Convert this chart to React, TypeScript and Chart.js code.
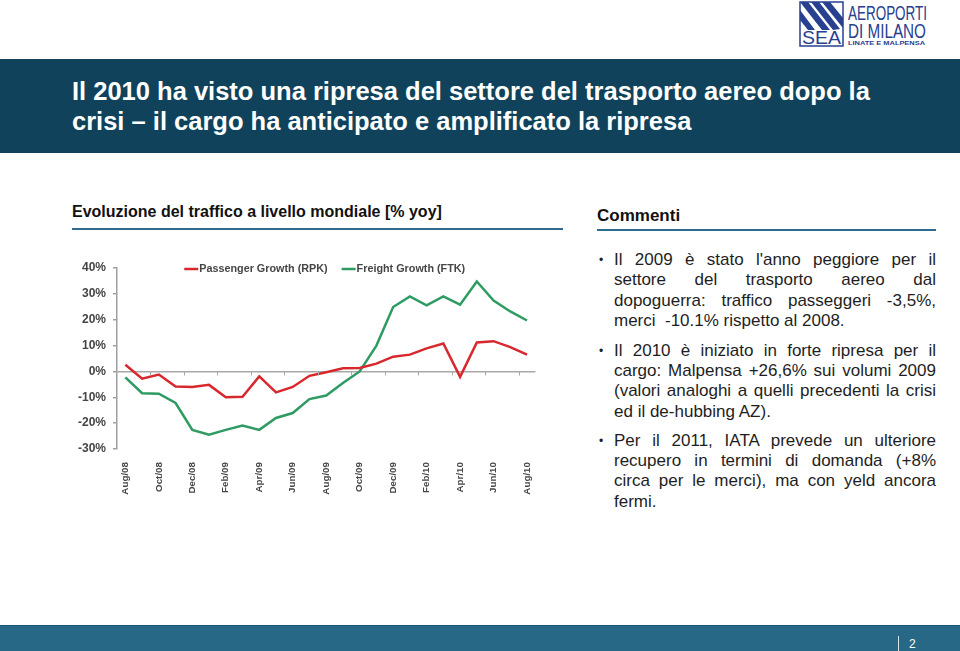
import React, { useEffect, useLayoutEffect, useRef } from "react";
import { Chart, registerables } from "chart.js";

Chart.register(...registerables);

// ---- Chart data ----
const months = [
  "Aug/08", "Sep/08", "Oct/08", "Nov/08", "Dec/08", "Jan/09", "Feb/09", "Mar/09",
  "Apr/09", "May/09", "Jun/09", "Jul/09", "Aug/09", "Sep/09", "Oct/09", "Nov/09",
  "Dec/09", "Jan/10", "Feb/10", "Mar/10", "Apr/10", "May/10", "Jun/10", "Jul/10", "Aug/10",
];
const passengerGrowth = [
  2.6, -2.8, -1.2, -5.8, -6.0, -5.2, -10.0, -9.8, -1.9, -8.1, -6.0, -1.7, -0.3,
  1.2, 1.3, 3.0, 5.7, 6.5, 8.9, 10.8, -2.1, 11.2, 11.7, 9.4, 6.5,
];
const freightGrowth = [
  -2.3, -8.4, -8.6, -12.2, -22.6, -24.5, -22.6, -20.9, -22.6, -18.0, -16.1, -10.7, -9.3,
  -4.5, 0.0, 10.0, 24.9, 29.0, 25.6, 29.0, 25.8, 34.8, 27.4, 23.2, 19.7,
];
const seriesNames = ["Passenger Growth (RPK)", "Freight Growth (FTK)"];
const yMin = -30;
const yMax = 40;
const yStep = 10;

// ---- Slide text ----
const titleLines = [
  "Il 2010 ha visto una ripresa del settore del trasporto aereo dopo la",
  "crisi \u2013 il cargo ha anticipato e amplificato la ripresa",
];
const paragraphs = [
  [
    "Il 2009 è stato l'anno peggiore per il",
    "settore del trasporto aereo dal",
    "dopoguerra: traffico passeggeri -3,5%,",
    "merci  -10.1% rispetto al 2008.",
  ],
  [
    "Il 2010 è iniziato in forte ripresa per il",
    "cargo: Malpensa +26,6% sui volumi 2009",
    "(valori analoghi a quelli precedenti la crisi",
    "ed il de-hubbing AZ).",
  ],
  [
    "Per il 2011, IATA prevede un ulteriore",
    "recupero in termini di domanda (+8%",
    "circa per le merci), ma con yeld ancora",
    "fermi.",
  ],
];
const paragraphTops = [250, 340.6, 430.6];

const FONT = 'Arial, "Liberation Sans", sans-serif';
const RED = "#d8282e";
const GREEN = "#2e9b63";
const TXT = "#454545";
const LOGO_BLUE = "#27408f";

const legendPlugin = {
  id: "customLegend",
  afterDraw(chart: any) {
    const { ctx, chartArea } = chart;
    ctx.save();
    ctx.font = `bold 10.8px ${FONT}`;
    const items = chart.data.datasets.map((ds: any) => ({
      text: ds.label,
      color: ds.borderColor,
      w: ctx.measureText(ds.label).width,
    }));
    const lineW = 14;
    const gap = 1;
    const itemGap = 14;
    const total =
      items.reduce((s: number, it: any) => s + lineW + gap + it.w, 0) +
      itemGap * (items.length - 1);
    let x = (chartArea.left + chartArea.right) / 2 - total / 2 - 1.5;
    const y = chartArea.top + 1;
    ctx.textBaseline = "middle";
    ctx.textAlign = "left";
    for (const it of items) {
      ctx.strokeStyle = it.color;
      ctx.lineWidth = 2.5;
      ctx.beginPath();
      ctx.moveTo(x, y);
      ctx.lineTo(x + lineW, y);
      ctx.stroke();
      x += lineW + gap;
      ctx.fillStyle = TXT;
      ctx.fillText(it.text, x, y);
      x += it.w + itemGap;
    }
    ctx.restore();
  },
};

// small tick marks on the zero line, before each labelled month
const zeroTicksPlugin = {
  id: "zeroTicks",
  afterDatasetsDraw(chart: any) {
    const { ctx, scales } = chart;
    const xs = scales.x;
    const y0 = scales.y.getPixelForValue(0);
    const step = xs.getPixelForValue(1) - xs.getPixelForValue(0);
    ctx.save();
    ctx.strokeStyle = "#a8a8a8";
    ctx.lineWidth = 1;
    for (let i = 2; i < months.length; i += 2) {
      const x = Math.round(xs.getPixelForValue(i) - step / 2) + 0.5;
      ctx.beginPath();
      ctx.moveTo(x, y0);
      ctx.lineTo(x, y0 + 4);
      ctx.stroke();
    }
    ctx.restore();
  },
};

function TrafficChart() {
  const ref = useRef<HTMLCanvasElement | null>(null);
  useEffect(() => {
    if (!ref.current) return;
    const chart = new Chart(ref.current, {
      type: "line",
      data: {
        labels: months,
        datasets: [
          {
            label: seriesNames[0],
            data: passengerGrowth,
            borderColor: RED,
            backgroundColor: RED,
            borderWidth: 2.5,
            pointRadius: 0,
            tension: 0,
          },
          {
            label: seriesNames[1],
            data: freightGrowth,
            borderColor: GREEN,
            backgroundColor: GREEN,
            borderWidth: 2.5,
            pointRadius: 0,
            tension: 0,
          },
        ],
      },
      options: {
        animation: false,
        responsive: false,
        devicePixelRatio: 1,
        layout: { padding: { top: 10, right: 14.6, left: 0, bottom: 0 } },
        plugins: {
          legend: { display: false },
          tooltip: { enabled: false },
        },
        scales: {
          x: {
            offset: true,
            grid: { display: false },
            border: { display: false },
            ticks: {
              autoSkip: false,
              maxRotation: 90,
              minRotation: 90,
              padding: 5,
              color: TXT,
              font: { size: 9.8, family: FONT, weight: "bold" },
              callback: (_v: any, i: number) => (i % 2 === 0 ? months[i] : ""),
            },
            afterFit: (s: any) => {
              s.height = 49;
              s.paddingLeft = 0;
              s.paddingRight = 0;
            },
          },
          y: {
            min: yMin,
            max: yMax,
            ticks: {
              stepSize: yStep,
              padding: 7,
              color: TXT,
              font: { size: 12, family: FONT, weight: "bold" },
              callback: (v: any) => `${v}%`,
            },
            grid: {
              color: (c: any) => (c.tick && c.tick.value === 0 ? "#a8a8a8" : "rgba(0,0,0,0)"),
              lineWidth: 1.5,
              drawTicks: true,
              tickLength: 4,
              tickColor: "#a0a0a0",
            },
            border: { display: true, color: "#a0a0a0", width: 1.5 },
            afterFit: (s: any) => {
              s.width = 57;
              s.paddingTop = 0;
              s.paddingBottom = 0;
            },
          },
        },
      },
      plugins: [legendPlugin, zeroTicksPlugin],
    } as any);
    return () => chart.destroy();
  }, []);
  return (
    <canvas
      ref={ref}
      width={490}
      height={240}
      style={{ position: "absolute", left: 60, top: 258, width: 490, height: 240 }}
    />
  );
}

// Text squeezed/stretched horizontally to a target width (for the logo's condensed lettering)
function FitText(props: {
  text: string;
  left: number;
  top: number;
  size: number;
  lh: number;
  width: number;
  bold?: boolean;
}) {
  const ref = useRef<HTMLDivElement | null>(null);
  useLayoutEffect(() => {
    const el = ref.current;
    if (!el) return;
    el.style.transform = "none";
    const w = el.getBoundingClientRect().width;
    if (w > 0) el.style.transform = `scaleX(${props.width / w})`;
  }, []);
  return (
    <div
      ref={ref}
      style={{
        position: "absolute",
        left: props.left,
        top: props.top,
        fontSize: props.size,
        lineHeight: `${props.lh}px`,
        fontWeight: props.bold ? "bold" : "normal",
        color: LOGO_BLUE,
        whiteSpace: "nowrap",
        transformOrigin: "0 0",
        display: "inline-block",
      }}
    >
      {props.text}
    </div>
  );
}

function Logo() {
  const blue = LOGO_BLUE;
  return (
    <>
      <svg width={50} height={50} style={{ position: "absolute", left: 796, top: 0 }} viewBox="0 0 50 50">
        <defs>
          <clipPath id="logoBox">
            <rect x={4} y={2} width={43} height={44} />
          </clipPath>
        </defs>
        <rect x={4} y={2} width={43} height={44} fill="#fff" stroke={blue} strokeWidth={1.5} />
        <g clipPath="url(#logoBox)" fill={blue}>
          <polygon points="4,2 12,2 34,30 26,30" />
          <polygon points="15,2 23,2 44,29 37,30" />
          <polygon points="26,2 34,2 47,18 47,28" />
          <polygon points="4,10 4,20 12,30 19,30" />
        </g>
      </svg>
      <FitText text="SEA" left={802} top={30} size={19} lh={15} width={39} />
      <FitText text="AEROPORTI" left={848} top={4.7} size={21} lh={16} width={79} />
      <FitText text="DI MILANO" left={848} top={22.7} size={21} lh={16} width={78} />
      <FitText text="LINATE E MALPENSA" left={848} top={39.5} size={5.8} lh={6} width={77} bold />
    </>
  );
}

export default function App() {
  return (
    <div
      style={{
        position: "absolute",
        left: 0,
        top: 0,
        width: 960,
        height: 651,
        overflow: "hidden",
        background: "#ffffff",
        fontFamily: FONT,
      }}
    >
      <Logo />
      <div style={{ position: "absolute", left: 0, top: 59, width: 960, height: 94, background: "#10435b" }} />
      {titleLines.map((t, i) => (
        <div
          key={i}
          style={{
            position: "absolute",
            left: 72,
            top: 76.2 + i * 30,
            fontSize: 25.5,
            lineHeight: "30px",
            fontWeight: "bold",
            color: "#ffffff",
            whiteSpace: "nowrap",
          }}
        >
          {t}
        </div>
      ))}

      <div
        style={{
          position: "absolute",
          left: 72,
          top: 201.5,
          fontSize: 16,
          lineHeight: "20px",
          fontWeight: "bold",
          color: "#111",
          whiteSpace: "nowrap",
        }}
      >
        Evoluzione del traffico a livello mondiale [% yoy]
      </div>
      <div style={{ position: "absolute", left: 72, top: 227.5, width: 491, height: 2, background: "#2e6b8e" }} />
      <div
        style={{
          position: "absolute",
          left: 597,
          top: 206,
          fontSize: 17,
          lineHeight: "20px",
          fontWeight: "bold",
          color: "#111",
          whiteSpace: "nowrap",
        }}
      >
        Commenti
      </div>
      <div style={{ position: "absolute", left: 597, top: 229, width: 339, height: 2, background: "#2e6b8e" }} />

      <TrafficChart />

      {paragraphs.map((lines, pi) => (
        <div key={pi} style={{ position: "absolute", left: 0, top: paragraphTops[pi] }}>
          <div
            style={{
              position: "absolute",
              left: 599,
              top: 0,
              fontSize: 12,
              lineHeight: "20.4px",
              color: "#222",
            }}
          >
            {"\u2022"}
          </div>
          {lines.map((ln, li) => {
            const last = li === lines.length - 1;
            return (
              <div
                key={li}
                style={{
                  position: "absolute",
                  left: 614,
                  top: li * 20.4,
                  width: 322,
                  fontSize: 17,
                  lineHeight: "20.4px",
                  color: "#1e1e1e",
                  textAlign: last ? "left" : "justify",
                  textAlignLast: last ? "left" : "justify",
                  whiteSpace: "pre-wrap",
                }}
              >
                {ln}
              </div>
            );
          })}
        </div>
      ))}

      <div style={{ position: "absolute", left: 0, top: 625, width: 960, height: 26, background: "#276887" }} />
      <div style={{ position: "absolute", left: 0, top: 625, width: 960, height: 1, background: "#1c5670" }} />
      <div style={{ position: "absolute", left: 898, top: 636, width: 1, height: 15, background: "#d8e4ea" }} />
      <div style={{ position: "absolute", left: 909, top: 637, fontSize: 12, lineHeight: "14px", color: "#ffffff" }}>
        2
      </div>
    </div>
  );
}
